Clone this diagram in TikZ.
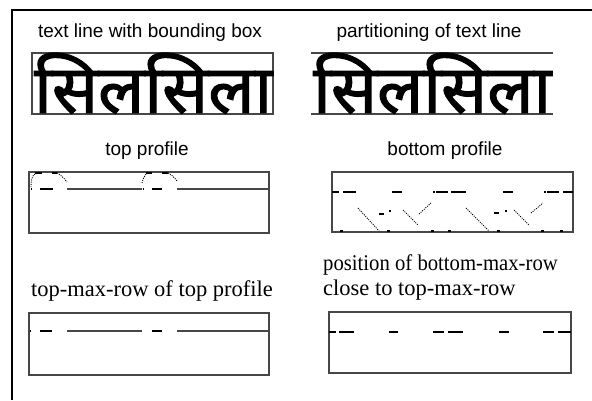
\documentclass[tikz,border=0pt]{standalone}
\usepackage{fontspec}
\usepackage{graphicx}
\setmainfont{Liberation Serif}
\newfontfamily\sansf{Liberation Sans}
\newfontfamily\devfont[Script=Devanagari,FakeBold=1.6]{Noto Sans}
\newcommand\devword{सिलसिला}
\tikzset{
  titlesans/.style={font=\sansf\fontsize{19}{22}\selectfont, anchor=base, inner sep=0pt},
  titleserif/.style={font=\fontsize{22.5}{25}\selectfont, anchor=base west, inner sep=0pt},
  boxline/.style={draw=black!72, line width=1.2pt},
  prof/.style={line width=1.5pt},
  dotc/.style={line width=0.9pt, dash pattern=on 1pt off 1.2pt},
  wordnode/.style={anchor=south west, inner sep=0pt},
}
\begin{document}
\begin{tikzpicture}[x=1pt,y=-1pt]
\useasboundingbox (0,0) rectangle (592,400);
\fill[white] (0,0) rectangle (592,400);
% outer frame
\draw[line width=2pt] (11.5,400) -- (11.5,10) -- (592,10);

% panel 1
\node[titlesans] (t1) at (150,37) {text line with bounding box};
\draw[boxline] (32,53) rectangle (273,114);
\node[wordnode] (w1) at (34,114) {\resizebox*{238pt}{61pt}{\devfont\devword}};

% panel 2
\node[titlesans] (t2) at (429,37) {partitioning of text line};
\draw[boxline] (311,53) -- (553,53);
\draw[boxline] (311,114) -- (553,114);
\node[wordnode] (w2) at (313,114) {\resizebox*{238pt}{61pt}{\devfont\devword}};

% panel 3 top profile
\node[titlesans] (t3) at (147,155) {top profile};
\draw[boxline] (29,172) rectangle (269,233);
\draw[boxline] (67,189) -- (142,189);
\draw[boxline] (177,189) -- (269,189);
\draw[prof] (30.5,189) -- (31.5,189);
\draw[prof] (40,189) -- (53,189);
\draw[prof] (143,189) -- (144,189);
\draw[prof] (152,189) -- (162,189);
\draw[line width=2pt] (35,173) -- (42,173);
\draw[line width=2pt] (52,173) -- (57,173);
\draw[line width=2pt] (146,173) -- (152,173);
\draw[line width=2pt] (162,173) -- (168,173);
\draw[dotc] (31,187) .. controls (31,180) and (32,176) .. (35,174);
\draw[dotc] (57,173) .. controls (61,175) and (64,178) .. (67,182);
\draw[dotc] (142,183) .. controls (143,179) and (144,176) .. (146,174);
\draw[dotc] (168,173) .. controls (172,175) and (175,178) .. (177,181);

% panel 4 bottom profile
\node[titlesans] (t4) at (445,155) {bottom profile};
\draw[boxline] (332,172) rectangle (573,232);
\foreach \a/\b in {332/339,343/356,392/402,436/448,451/466,503/513,547/559,563/573}
  \draw[prof] (\a,192) -- (\b,192);
\foreach \a in {434,545}
  \fill (\a-1,191.2) rectangle (\a+1,192.8);
\draw[dotc] (358,208) -- (379,231);
\draw[prof] (379,214) -- (384,214);
\fill (389,210) rectangle (391,212);
\draw[dotc] (403,210) -- (418,225);
\draw[dotc] (419,214) -- (431,203);
\draw[dotc] (466,208) -- (489,231);
\draw[prof] (494,213) -- (499,213);
\fill (505,210) rectangle (507,212);
\draw[dotc] (514,210) -- (529,225);
\draw[dotc] (531,213) -- (543,203);
\foreach \a in {341,388,432,449,498,542,561}
  \fill (\a-1.5,229.5) rectangle (\a+1.5,231.5);

% panel 5 top-max-row
\node[titleserif, anchor=base] (t5) at (152,296) {top-max-row of top profile};
\draw[boxline] (29,313) rectangle (269,375);
\draw[boxline] (67,331) -- (142,331);
\draw[boxline] (177,331) -- (269,331);
\draw[prof] (30,331) -- (31,331);
\draw[prof] (40,331) -- (52,331);
\draw[prof] (152,331) -- (162,331);

% panel 6 bottom-max-row
\node[titleserif] (t6a) at (323,270) {\scalebox{0.92}[1]{position of bottom-max-row}};
\node[titleserif] (t6b) at (323,295) {close to top-max-row};
\draw[boxline] (329,312) rectangle (571,373);
\foreach \a/\b in {329/336,339/354,389/398,433/444,448/463,499/509,543/554,558/571}
  \draw[prof] (\a,332) -- (\b,332);
\end{tikzpicture}
\end{document}
